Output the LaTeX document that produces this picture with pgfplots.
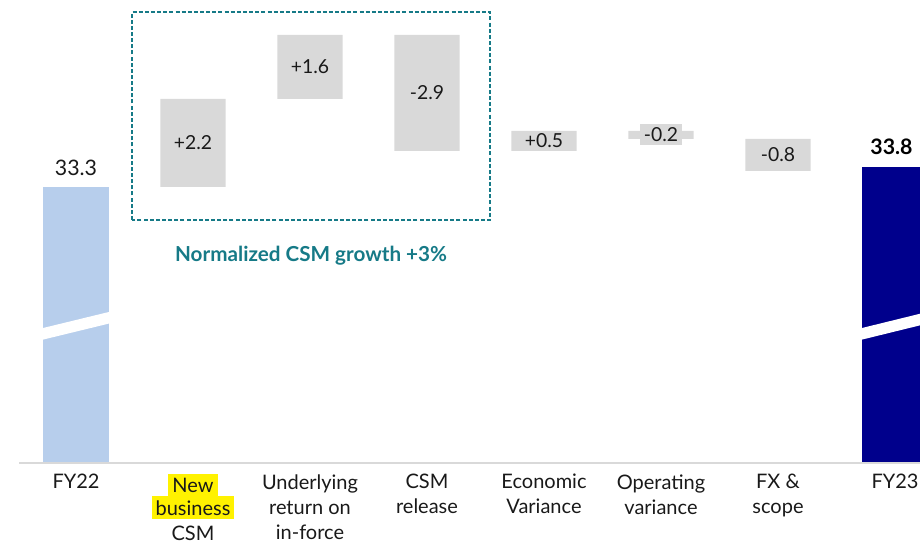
\documentclass[border=0pt]{standalone}
\usepackage{fontspec}
\setmainfont{Lato}
\usepackage{pgfplots}
\pgfplotsset{compat=1.18}
\definecolor{fyLight}{RGB}{183,206,236}
\definecolor{fyNavy}{RGB}{0,0,140}
\definecolor{barGray}{RGB}{217,217,217}
\definecolor{tealc}{RGB}{22,122,135}
\definecolor{axisGray}{RGB}{217,217,217}
\tikzset{dl/.style={fill=barGray, inner xsep=3pt, inner ysep=2.5pt, font=\fontsize{14.5}{16}\selectfont, text=black!90}}
\begin{document}
\begin{tikzpicture}
\useasboundingbox (0,-60pt) rectangle (690pt,347.25pt);
\begin{axis}[
  at={(0,0)}, anchor=south west,
  scale only axis, width=690pt, height=347.25pt,
  xmin=-0.6496, xmax=7.2137, ymin=26.4, ymax=37.975,
  axis line style={draw=none},
  ytick=\empty,
  xtick={0,1,2,3,4,5,6,7},
  major tick length=0pt,
  xticklabels={FY22,
    {\colorbox{yellow}{New}\\[-2pt]\colorbox{yellow}{business}\\CSM},
    {Underlying\\return on\\in-force},
    {CSM\\release},
    {Economic\\Variance},
    {Operating\\variance},
    {FX \&\\scope},
    FY23},
  xticklabel style={align=center, font=\fontsize{15}{18.75}\selectfont, text=black!90, yshift=-5pt},
  ybar stacked, bar width=0.556,
  clip=true,
  after end axis/.code={
    % axis break marks
    \fill[white] (axis cs:-0.33,29.74) -- (axis cs:0.33,30.21) -- (axis cs:0.33,29.92) -- (axis cs:-0.33,29.45) -- cycle;
    \fill[white] (axis cs:6.67,29.74) -- (axis cs:7.2137,30.131) -- (axis cs:7.2137,29.841) -- (axis cs:6.67,29.45) -- cycle;
    % baseline
    \draw[axisGray, line width=1.5pt] (axis cs:-0.487,26.4) -- (axis cs:7.2137,26.4);
    % totals
    \node[anchor=base, font=\fontsize{16}{18}\selectfont, text=black!90] at (axis cs:0,33.58) {33.3};
    \node[anchor=base, font=\bfseries\fontsize{16}{18}\selectfont, text=black] at (axis cs:6.97,34.1) {33.8};
    % deltas
    \node[dl] at (axis cs:1,34.4) {+2.2};
    \node[dl] at (axis cs:2,36.3) {+1.6};
    \node[dl] at (axis cs:3,35.65) {-2.9};
    \node[dl] at (axis cs:4,34.45) {+0.5};
    \node[dl] at (axis cs:5,34.62) {-0.2};
    \node[dl] at (axis cs:6,34.1) {-0.8};
    % annotation box
    \draw[tealc, line width=1.1pt, dash pattern=on 3pt off 1.6pt] (axis cs:0.479,32.475) rectangle (axis cs:3.538,37.675);
    \node[font=\bfseries\fontsize{15.5}{18}\selectfont, text=tealc] at (axis cs:2.009,31.575) {Normalized CSM growth +3\%};
  },
]
\addplot[draw=none, fill=none] coordinates {(0,0) (1,33.3) (2,35.5) (3,34.2) (4,34.2) (5,34.5) (6,33.7) (7,0)};
\addplot[draw=none, fill=barGray] coordinates {(0,0) (1,2.2) (2,1.6) (3,2.9) (4,0.5) (5,0.2) (6,0.8) (7,0)};
\addplot[draw=none, fill=fyLight] coordinates {(0,33.3) (1,0) (2,0) (3,0) (4,0) (5,0) (6,0) (7,0)};
\addplot[draw=none, fill=fyNavy] coordinates {(0,0) (1,0) (2,0) (3,0) (4,0) (5,0) (6,0) (7,33.8)};
\end{axis}
\end{tikzpicture}
\end{document}
